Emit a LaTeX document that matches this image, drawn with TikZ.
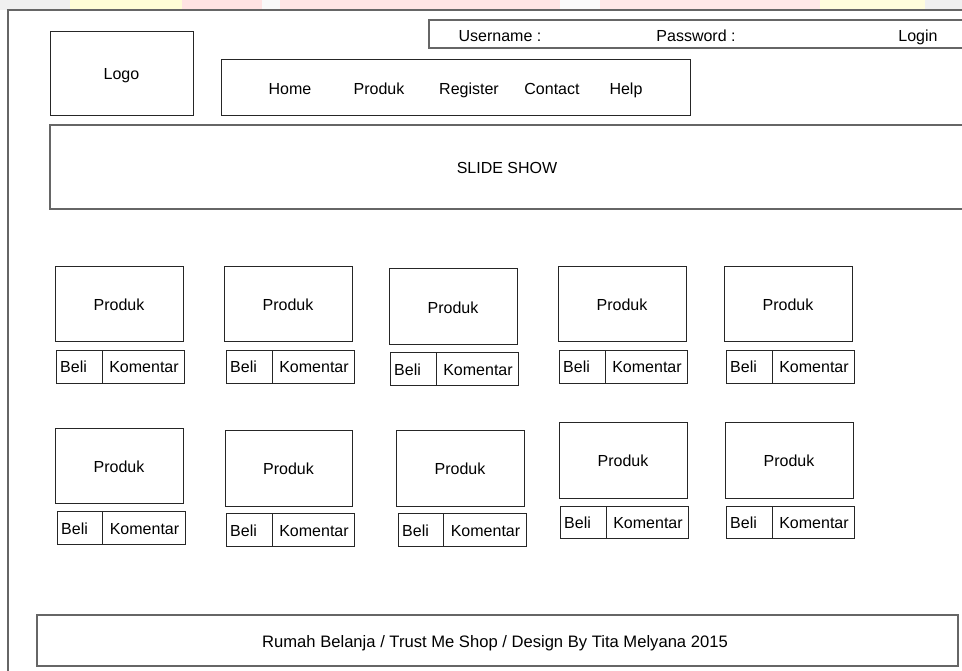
\documentclass[tikz,border=0pt]{standalone}
\usepackage{fontspec}
\setmainfont{Liberation Sans}
\begin{document}
\begin{tikzpicture}[x=1pt,y=-1pt,
  every node/.style={font=\fontsize{16}{19}\selectfont, inner sep=0pt,
    text height=14pt, text depth=1pt},
  frameline/.style={draw=black!60, line width=1.6pt},
  boxline/.style={draw=black!85, line width=1pt},
  lbl/.style={anchor=center}]
\useasboundingbox (0,0) rectangle (962,671);
\fill[white] (0,0) rectangle (962,671);
% faint coloured strip along the top edge
\begin{scope}[opacity=0.22]
  \fill[black!25] (0,0) rectangle (70,10);
  \fill[yellow!70] (70,0) rectangle (182,10);
  \fill[red!50] (182,0) rectangle (262,10);
  \fill[black!10] (262,0) rectangle (280,10);
  \fill[red!45] (280,0) rectangle (560,10);
  \fill[black!8] (560,0) rectangle (600,10);
  \fill[red!40] (600,0) rectangle (820,10);
  \fill[yellow!60] (820,0) rectangle (925,10);
  \fill[black!25] (925,0) rectangle (962,10);
\end{scope}
% outer page frame
\draw[frameline] (8,680) -- (8,10) -- (975,10);
% header
\draw[boxline] (50,32) rectangle (193,116);
\node[lbl] (logo) at (121.5,73) {Logo};
\draw[frameline, line width=1.2pt] (975,20) -- (429,20) -- (429,48) -- (975,48);
\node[lbl] (user) at (500,35) {Username :};
\node[lbl] (pass) at (696,35) {Password :};
\node[lbl] (login) at (918,35) {Login};
\draw[boxline] (221,60) rectangle (690,116);
\node[lbl] (home) at (290,88) {Home};
\node[lbl] (mprod) at (379,88) {Produk};
\node[lbl] (reg) at (469,88) {Register};
\node[lbl] (contact) at (552,88) {Contact};
\node[lbl] (help) at (626,88) {Help};
% slide show banner
\draw[frameline] (975,125) -- (50,125) -- (50,209) -- (975,209);
\node[lbl] (slide) at (507,167) {SLIDE SHOW};
% product cards: box corners, button bar corners, divider x
\foreach \i/\bx/\by/\bX/\bY/\cx/\cy/\cX/\cY/\dv in {
  a/55/267/183/342/56/350/184/383/102,
  b/224/267/352/342/226/350/354/383/272,
  c/389/269/517/345/390/352/518/385/436,
  d/558/267/686/342/559/350/687/383/605,
  e/724/267/852/342/726/350/854/383/772,
  f/55/428/183/503/57/511/185/544/102,
  g/225/430/352/506/226/513/354/546/272,
  h/396/430/524/506/398/513/526/546/443,
  i/559/422/687/498/560/506/688/538/606,
  j/725/422/853/498/726/506/854/538/772}{
  \draw[boxline] (\bx,\by) rectangle (\bX,\bY);
  \node[lbl] (p\i) at ({(\bx+\bX)/2},{(\by+\bY)/2}) {Produk};
  \draw[boxline] (\cx,\cy) rectangle (\cX,\cY);
  \draw[boxline] (\dv,\cy) -- (\dv,\cY);
  \node[anchor=west] (b\i) at ({\cx+4},{(\cy+\cY)/2}) {Beli};
  \node[lbl] (k\i) at ({(\dv+\cX)/2+1},{(\cy+\cY)/2}) {Komentar};
}
% footer
\draw[frameline, line width=1.2pt] (37,615) rectangle (958,666);
\node[lbl, font=\fontsize{16.6}{20}\selectfont] (foot) at (495,641) {Rumah Belanja / Trust Me Shop / Design By Tita Melyana 2015};
\end{tikzpicture}
\end{document}
